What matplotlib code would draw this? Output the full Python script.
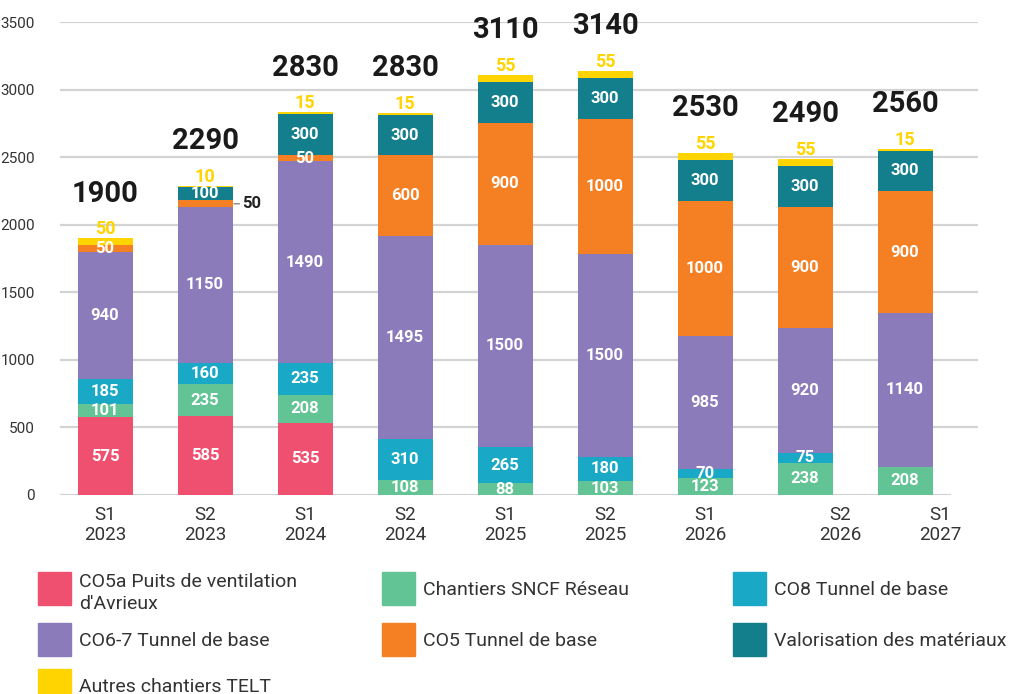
import matplotlib.pyplot as plt
from matplotlib.patches import Rectangle

periods = ["S1\n2023", "S2\n2023", "S1\n2024", "S2\n2024", "S1\n2025",
           "S2\n2025", "S1\n2026", "S2\n2026", "S1\n2027"]
totals = [1900, 2290, 2830, 2830, 3110, 3140, 2530, 2490, 2560]

co5a = [575, 585, 535, 0, 0, 0, 0, 0, 0]
sncf = [101, 235, 208, 108, 88, 103, 123, 238, 208]
co8 = [185, 160, 235, 310, 265, 180, 70, 75, 0]
co67 = [940, 1150, 1490, 1495, 1500, 1500, 985, 920, 1140]
co5 = [50, 50, 50, 600, 900, 1000, 1000, 900, 900]
valo = [0, 100, 300, 300, 300, 300, 300, 300, 300]
autres = [50, 10, 15, 15, 55, 55, 55, 55, 15]

names = ["CO5a Puits de ventilation\nd'Avrieux", "Chantiers SNCF Réseau",
         "CO8 Tunnel de base", "CO6-7 Tunnel de base", "CO5 Tunnel de base",
         "Valorisation des matériaux", "Autres chantiers TELT"]
colors = ["#F05070", "#62C495", "#19A9C6", "#8C7BBA", "#F58024", "#147F8C", "#FFD400"]

W, H = 1011, 694
fig = plt.figure(figsize=(W / 100, H / 100), dpi=100)
ax = fig.add_axes([60 / W, 1 - 495 / H, (978 - 60) / W, (495 - 22) / H])

font = "Roboto"
x = list(range(len(periods)))
ax.set_xlim(-0.45, 8.73)
ax.set_ylim(0, 3500)

for y in range(500, 3501, 500):
    ax.axhline(y, color="#d3d3d3", lw=1.6, zorder=0)
ax.plot([-0.45, 8.45], [0, 0], color="#d3d3d3", lw=1.6, zorder=0)

series = [co5a, sncf, co8, co67, co5, valo, autres]
bottom = [0] * len(x)
for k, (vals, c) in enumerate(zip(series, colors)):
    ax.bar(x, vals, 0.55, bottom=bottom, color=c, zorder=2)
    for i, v in enumerate(vals):
        if v == 0:
            continue
        if k == 6:
            ax.annotate(str(v), (i, bottom[i] + v), xytext=(0, 0), textcoords="offset points",
                        ha="center", va="bottom", color=c, fontsize=13, fontweight="bold",
                        family=font, zorder=3)
        elif k == 4 and i == 1:
            ax.annotate(str(v), (i + 0.275, bottom[i] + v / 2), xytext=(7, 0),
                        textcoords="offset points", ha="left", va="center",
                        color="#222222", fontsize=12, fontweight="bold", family=font,
                        arrowprops=dict(arrowstyle="-", color="#888888", lw=1,
                                        shrinkA=0, shrinkB=1))
        else:
            ax.text(i, bottom[i] + v / 2, str(v), ha="center", va="center",
                    color="white", fontsize=12, fontweight="bold", family=font, zorder=3)
    bottom = [b + v for b, v in zip(bottom, vals)]

for i, t in enumerate(totals):
    ax.annotate(str(t), (i, bottom[i]), xytext=(0, 22), textcoords="offset points",
                ha="center", va="bottom", color="#1a1a1a", fontsize=21,
                fontweight="bold", family=font)

label_shift = [0, 0, 0, 0, 0, 0, 0, 0.35, 0.35]
for i, lab in enumerate(periods):
    ax.text(i + label_shift[i], -85, lab, ha="center", va="top", fontsize=13.5,
            color="#333333", family=font, linespacing=1.1)

ax.set_xticks([])
ax.set_yticks(range(0, 3501, 500))
ax.tick_params(axis="y", length=0, pad=18, labelsize=11, labelcolor="#333333")
for t in ax.get_yticklabels():
    t.set_family(["Liberation Sans Narrow", "Roboto"])
for s in ax.spines.values():
    s.set_visible(False)

# legend
sw = [(38, 572), (382, 572), (733, 572), (38, 623), (382, 623), (733, 623), (38, 669)]
for (px, py), name, c in zip(sw, names, colors):
    fig.add_artist(Rectangle((px / W, 1 - (py + 33) / H), 33 / W, 33 / H,
                             transform=fig.transFigure, color=c))
    ty = py + 18 if "\n" not in name else py + 21
    fig.text((px + 41) / W, 1 - ty / H, name, ha="left", va="center", fontsize=14,
             color="#333333", family=font, linespacing=1.3)

fig.savefig("out.png", dpi=100)
